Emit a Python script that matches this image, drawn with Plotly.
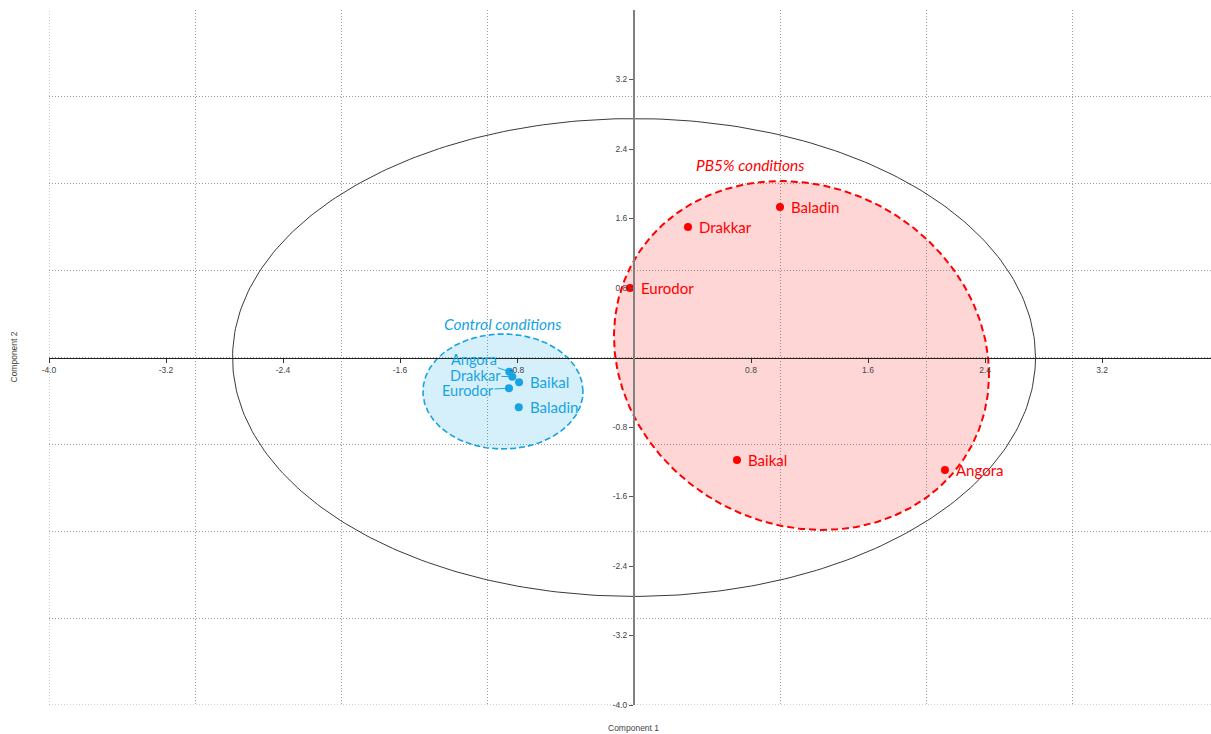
import numpy as np
import plotly.graph_objects as go

# PCA scores for the five genotypes under each treatment
genotypes = ["Angora", "Baikal", "Baladin", "Drakkar", "Eurodor"]
pb5_comp1 = [2.126, 0.704, 0.998, 0.369, -0.027]
pb5_comp2 = [-1.295, -1.180, 1.732, 1.502, 0.800]
ctrl_comp1 = [-0.853, -0.786, -0.788, -0.832, -0.855]
ctrl_comp2 = [-0.163, -0.285, -0.573, -0.221, -0.354]

x_ticks = [-4.0, -3.2, -2.4, -1.6, -0.8, 0.8, 1.6, 2.4, 3.2]
y_ticks = [-4.0, -3.2, -2.4, -1.6, -0.8, 0.8, 1.6, 2.4, 3.2]
grid_vals = [-4, -3, -2, -1, 0, 1, 2, 3, 4]

# ellipse outlines: centre, half-extents and skew of the parametric curve
hotelling = dict(cx=0.0, cy=0.0, rx=2.745, ry=2.75, skew=0.0)
pb5_zone = dict(cx=1.145, cy=0.023, rx=1.282, ry=2.008, skew=0.11)
ctrl_zone = dict(cx=-0.896, cy=-0.391, rx=0.547, ry=0.662, skew=0.0)

RED = "#ff0000"
BLUE = "#17a4e4"
GRID = "#9c9c9c"
GRID_DASH = "1px,2px"
LABEL_FONT = "Lato"
TICK_FONT = "Liberation Sans"


def ellipse(cx, cy, rx, ry, skew, n=361):
    t = np.linspace(0, 2 * np.pi, n)
    return cx + rx * np.cos(t), cy + ry * np.sin(t - skew)


fig = go.Figure()

ex, ey = ellipse(**hotelling)
fig.add_trace(go.Scatter(x=ex, y=ey, mode="lines", hoverinfo="skip",
                         line=dict(color="#3a3a3a", width=1)))

ex, ey = ellipse(**pb5_zone)
fig.add_trace(go.Scatter(x=ex, y=ey, mode="lines", fill="toself",
                         fillcolor="rgba(255,0,0,0.16)", hoverinfo="skip",
                         line=dict(color=RED, width=2, dash="7px,4px")))

ex, ey = ellipse(**ctrl_zone)
fig.add_trace(go.Scatter(x=ex, y=ey, mode="lines", fill="toself",
                         fillcolor="rgba(0,160,228,0.16)", hoverinfo="skip",
                         line=dict(color=BLUE, width=1.6, dash="6px,3px")))

fig.add_trace(go.Scatter(x=pb5_comp1, y=pb5_comp2, mode="markers", text=genotypes,
                         marker=dict(color=RED, size=8)))
fig.add_trace(go.Scatter(x=ctrl_comp1, y=ctrl_comp2, mode="markers", text=genotypes,
                         marker=dict(color=BLUE, size=8)))

annotations = []
for name, x, y in zip(genotypes, pb5_comp1, pb5_comp2):
    annotations.append(dict(x=x, y=y, text=name, showarrow=False, xanchor="left",
                            xshift=9, font=dict(family=LABEL_FONT, size=15, color=RED)))

# control labels: some are pushed aside with a leader line
ctrl_offsets = {"Angora": (-35, -12), "Drakkar": (-37, -1), "Eurodor": (-41, 2)}
for name, x, y in zip(genotypes, ctrl_comp1, ctrl_comp2):
    if name in ctrl_offsets:
        ax, ay = ctrl_offsets[name]
        annotations.append(dict(x=x, y=y, text=name, showarrow=True, arrowhead=0,
                                arrowwidth=1, arrowcolor=BLUE, ax=ax, ay=ay,
                                standoff=3, borderpad=0,
                                font=dict(family=LABEL_FONT, size=14.5, color=BLUE)))
    else:
        annotations.append(dict(x=x, y=y, text=name, showarrow=False, xanchor="left",
                                xshift=9, font=dict(family=LABEL_FONT, size=15, color=BLUE)))

annotations.append(dict(x=0.793, y=2.215, text="<i>PB5% conditions</i>", showarrow=False,
                        font=dict(family=LABEL_FONT, size=15.5, color=RED)))
annotations.append(dict(x=-0.896, y=0.385, text="<i>Control conditions</i>", showarrow=False,
                        font=dict(family=LABEL_FONT, size=15.5, color=BLUE)))

annotations.append(dict(xref="paper", yref="paper", x=0.503, y=-0.033, text="Component 1",
                        showarrow=False, yanchor="middle",
                        font=dict(family=TICK_FONT, size=8.5, color="#444")))
annotations.append(dict(xref="paper", yref="paper", x=-0.037, y=0.5, text="Component 2",
                        showarrow=False, textangle=-90,
                        font=dict(family=TICK_FONT, size=8.5, color="#444")))

x_min, x_max = -4.0, 3.945
y_min, y_max = -4.0, 4.0

grid = dict(tickvals=grid_vals, showgrid=True, griddash=GRID_DASH, gridcolor=GRID,
            gridwidth=1, ticks="")

fig.update_layout(
    width=1211, height=734,
    margin=dict(l=49, r=0, t=10, b=29),
    paper_bgcolor="white", plot_bgcolor="white",
    showlegend=False,
    annotations=annotations,
    xaxis=dict(range=[x_min, x_max], anchor="free", position=(0 - y_min) / (y_max - y_min),
               tickmode="array", tickvals=x_ticks, ticktext=[f"{v:.1f}" for v in x_ticks],
               ticks="outside", ticklen=4, tickcolor="#333", tickwidth=1,
               showline=True, linecolor="#222", linewidth=1,
               showgrid=False, zeroline=False, minor=grid,
               tickfont=dict(family=TICK_FONT, size=8.5, color="#444")),
    yaxis=dict(range=[y_min, y_max], anchor="free", position=(0 - x_min) / (x_max - x_min),
               tickmode="array", tickvals=y_ticks, ticktext=[f"{v:.1f}" for v in y_ticks],
               ticks="outside", ticklen=4, tickcolor="#555", tickwidth=1,
               showline=True, linecolor="#808080", linewidth=2,
               showgrid=False, zeroline=False, minor=grid,
               tickfont=dict(family=TICK_FONT, size=8.5, color="#444")),
    shapes=[
        dict(type="line", xref="x", yref="paper", x0=x_min, x1=x_min, y0=0, y1=1,
             line=dict(color=GRID, width=1, dash=GRID_DASH), layer="below"),
        dict(type="line", xref="paper", yref="y", x0=0, x1=1, y0=y_min, y1=y_min,
             line=dict(color=GRID, width=1, dash=GRID_DASH), layer="below"),
    ],
)

fig.write_html("out.html")
